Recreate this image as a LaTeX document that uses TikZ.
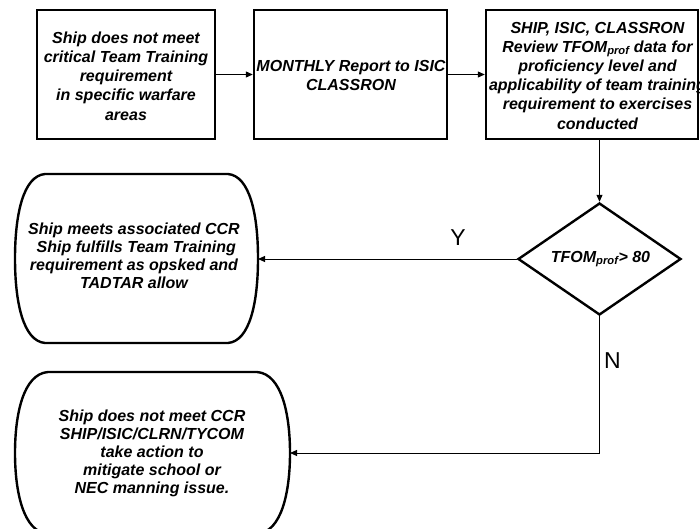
\documentclass[tikz,border=0pt]{standalone}
\usepackage{fontspec}
\setmainfont{Liberation Sans}
\usetikzlibrary{arrows.meta,shapes.geometric}
\tikzset{
  boxstyle/.style={draw=black, line width=2.4pt, rectangle, inner sep=0pt},
  txt/.style={align=center, inner sep=0pt, font=\fontsize{16}{19.2}\selectfont\bfseries\itshape},
  txtb/.style={align=center, inner sep=0pt, font=\fontsize{16}{18}\selectfont\bfseries\itshape},
  termstyle/.style={draw=black, line width=2.4pt},
  conn/.style={draw=black, line width=1pt, -{Triangle[length=7pt,width=6pt]}},
  lab/.style={inner sep=0pt, font=\fontsize{23}{23}\selectfont},
}
\begin{document}
\begin{tikzpicture}[x=1pt,y=-1pt]
\useasboundingbox (0,0) rectangle (700,529);
% boxes
\node[boxstyle, minimum width=178pt, minimum height=129pt] (b1) at (126,74.5) {};
\node[boxstyle, minimum width=193pt, minimum height=129pt] (b2) at (350.5,74.5) {};
\node[boxstyle, minimum width=212pt, minimum height=129pt] (b3) at (592,74.5) {};
\node[txt] (t1) at (126,76) {Ship does not meet\\critical Team Training\\requirement\\in specific warfare\\areas};
\node[txt] (t2) at (351,75.5) {MONTHLY Report to ISIC\\CLASSRON};
\node[txt] (t3) at (597.5,75.5) {SHIP, ISIC, CLASSRON\\Review TFOM\textsubscript{prof} data for\\proficiency level and\\applicability of team training\\requirement to exercises\\conducted};
% diamond
\node[draw=black, line width=2.4pt, diamond, aspect=1.455, minimum width=163pt, minimum height=112pt, inner sep=0pt] (d) at (599.5,259) {};
\node[txt] (dt) at (600.5,259) {TFOM\textsubscript{prof}> 80};
% terminal shape 1
\draw[termstyle] (45,174) -- (228,174) .. controls (250,176) and (258,215) .. (258,258.5)
  .. controls (258,302) and (250,341) .. (228,343) -- (45,343)
  .. controls (23,341) and (15,302) .. (15,258.5) .. controls (15,215) and (23,176) .. (45,174) -- cycle;
\coordinate (s1e) at (258,259);
\node[txtb] (s1) at (134,256) {Ship meets associated CCR\\\ Ship fulfills Team Training\\requirement as opsked and\\TADTAR allow};
% terminal shape 2
\draw[termstyle] (48,372) -- (257,372) .. controls (282,374) and (290,415) .. (290,453)
  .. controls (290,491) and (282,532) .. (257,534) -- (48,534)
  .. controls (23,532) and (15,491) .. (15,453) .. controls (15,415) and (23,374) .. (48,372) -- cycle;
\coordinate (s2e) at (290,453);
\node[txtb] (s2) at (152,453) {Ship does not meet CCR\\SHIP/ISIC/CLRN/TYCOM\\take action to\\mitigate school or\\NEC manning issue.};
% connectors
\draw[conn] (b1.east) -- (b2.west);
\draw[conn] (b2.east |- b1.east) -- (b3.west);
\draw[conn] (d.north |- b3.south) -- (d.north);
\draw[conn] (d.west) -- (s1e);
\coordinate (nc) at (d.south |- s2e);
\draw[conn] (d.south) -- (nc) -- (s2e);
\node[lab] (ly) at (458,238) {Y};
\node[lab] (ln) at (612.5,361) {N};
\end{tikzpicture}
\end{document}
